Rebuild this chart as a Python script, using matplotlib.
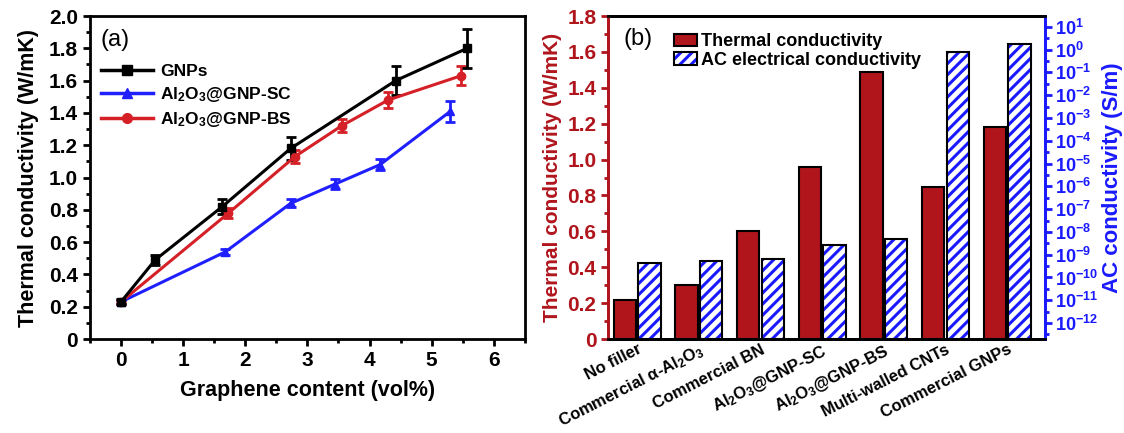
import numpy as np
import matplotlib
matplotlib.use("Agg")
import matplotlib.pyplot as plt
import matplotlib.transforms as mtransforms
from matplotlib.lines import Line2D
from matplotlib.ticker import MultipleLocator, FixedLocator, FuncFormatter
from matplotlib.legend_handler import HandlerTuple

plt.rcParams['font.family'] = ['Liberation Sans', 'DejaVu Sans']
plt.rcParams['font.weight'] = 'bold'
plt.rcParams['mathtext.fontset'] = 'custom'
plt.rcParams['mathtext.rm'] = 'Liberation Sans:bold'
plt.rcParams['mathtext.bf'] = 'Liberation Sans:bold'
plt.rcParams['mathtext.it'] = 'Liberation Sans:bold'
plt.rcParams['mathtext.default'] = 'rm'
plt.rcParams['hatch.linewidth'] = 2.2

# (a) thermal conductivity vs graphene content
gnp_x = [0, 0.55, 1.63, 2.73, 4.42, 5.57]
gnp_y = [0.23, 0.49, 0.82, 1.18, 1.60, 1.80]
gnp_err = [0.015, 0.03, 0.045, 0.07, 0.09, 0.12]

sc_x = [0, 1.68, 2.73, 3.45, 4.17, 5.30]
sc_y = [0.23, 0.54, 0.84, 0.96, 1.08, 1.41]
sc_err = [0.01, 0.02, 0.025, 0.03, 0.035, 0.065]

bs_x = [0, 1.73, 2.80, 3.55, 4.30, 5.47]
bs_y = [0.23, 0.78, 1.13, 1.32, 1.48, 1.63]
bs_err = [0.01, 0.03, 0.04, 0.04, 0.05, 0.06]

# (b) comparison of fillers
fillers = ["No filler", r"Commercial α-Al$_2$O$_3$", "Commercial BN",
           r"Al$_2$O$_3$@GNP-SC", r"Al$_2$O$_3$@GNP-BS",
           "Multi-walled CNTs", "Commercial GNPs"]
thermal = [0.22, 0.30, 0.60, 0.96, 1.49, 0.85, 1.18]
ac_cond = [4.2e-10, 5.5e-10, 6.5e-10, 2.7e-9, 4.7e-9, 0.8, 1.7]

RED = "#b0151c"
BLUE = "#1a1aff"

fig = plt.figure(figsize=(11.24, 4.33), dpi=100)
ax1 = fig.add_axes([0.080, 0.217, 0.387, 0.746])
ax2 = fig.add_axes([0.541, 0.217, 0.389, 0.746])


def one_dec(v, p):
    return "0" if abs(v) < 1e-9 else f"{v:.1f}"


# ---- panel (a)
series = [
    (gnp_x, gnp_y, gnp_err, "black", "s", "GNPs"),
    (sc_x, sc_y, sc_err, "#1f1fff", "^", r"Al$_2$O$_3$@GNP-SC"),
    (bs_x, bs_y, bs_err, "#d42026", "o", r"Al$_2$O$_3$@GNP-BS"),
]
# blue, red, then black on top
for x, y, e, c, m, lab in [series[1], series[2], series[0]]:
    ax1.errorbar(x, y, yerr=e, color=c, marker=m, markersize=6,
                 linewidth=2.2, elinewidth=2, capsize=3.5, capthick=2)
leg_lines = [Line2D([], [], color=c, marker=m, markersize=7, linewidth=2.5)
             for _, _, _, c, m, _ in series]
ax1.legend(leg_lines, [s[5] for s in series],
           loc="upper left", bbox_to_anchor=(-0.01, 0.90),
           frameon=False, fontsize=12.5, handlelength=3.0,
           handletextpad=0.4, labelspacing=0.35)

ax1.set_xlim(-0.5, 6.5)
ax1.set_ylim(0, 2.0)
ax1.xaxis.set_major_locator(MultipleLocator(1))
ax1.xaxis.set_minor_locator(MultipleLocator(0.5))
ax1.yaxis.set_major_locator(MultipleLocator(0.2))
ax1.yaxis.set_minor_locator(MultipleLocator(0.1))
ax1.yaxis.set_major_formatter(FuncFormatter(one_dec))
ax1.tick_params(which="both", direction="out", width=2, labelsize=15,
                top=False, right=False)
ax1.tick_params(which="major", length=5)
ax1.tick_params(which="minor", length=3)
for s in ax1.spines.values():
    s.set_linewidth(2)
ax1.set_xlabel("Graphene content (vol%)", fontsize=15.5, fontweight="bold",
               labelpad=7)
ax1.set_ylabel("Thermal conductivity (W/mK)", fontsize=15.5,
               fontweight="bold", labelpad=7)
ax1.text(0.025, 0.925, "(a)", transform=ax1.transAxes, fontsize=17,
         fontweight="normal", va="center")

# ---- panel (b)
pos = np.arange(len(fillers))
w = 0.36
bars_t = ax2.bar(pos - w / 2 - 0.02, thermal, w, color=RED,
                 edgecolor="black", linewidth=1.5)
ax2.set_xlim(-0.47, 6.62)
ax2.set_ylim(0, 1.8)
ax2.yaxis.set_major_locator(MultipleLocator(0.2))
ax2.yaxis.set_minor_locator(MultipleLocator(0.1))
ax2.yaxis.set_major_formatter(FuncFormatter(one_dec))
ax2.set_xticks(pos)
ax2.set_xticklabels(fillers, rotation=27, ha="right", va="top",
                    rotation_mode="anchor", fontsize=12)
shift = mtransforms.ScaledTranslation(10 / 72, 0, fig.dpi_scale_trans)
for lbl in ax2.get_xticklabels():
    lbl.set_transform(lbl.get_transform() + shift)
ax2.tick_params(axis="x", length=0, pad=2)
ax2.tick_params(axis="y", which="both", direction="out", width=2,
                colors=RED, labelsize=15)
ax2.tick_params(axis="y", which="major", length=5)
ax2.tick_params(axis="y", which="minor", length=3)
ax2.set_ylabel("Thermal conductivity (W/mK)", color=RED, fontsize=15,
               fontweight="bold", labelpad=4)

ax3 = ax2.twinx()
ax3.set_yscale("log")
ax3.set_ylim(10 ** -12.7, 10 ** 1.47)
bars_h = ax3.bar(pos + w / 2 + 0.02, ac_cond, w, bottom=10 ** -12.7,
                 color="white", edgecolor=BLUE, hatch="///", linewidth=0)
bars_o = ax3.bar(pos + w / 2 + 0.02, ac_cond, w, bottom=10 ** -12.7,
                 fill=False, edgecolor="black", linewidth=1.5)
ax3.yaxis.set_major_locator(FixedLocator([10.0 ** k for k in range(-12, 2)]))
ax3.yaxis.set_minor_locator(
    FixedLocator([10.0 ** (k + 0.5) for k in range(-13, 2)]))
ax3.yaxis.set_major_formatter(
    FuncFormatter(lambda v, p: r"$10^{%d}$" % round(np.log10(v))))
ax3.yaxis.set_minor_formatter(FuncFormatter(lambda v, p: ""))
ax3.tick_params(axis="y", which="both", direction="out", width=2,
                colors=BLUE, labelsize=13, pad=2)
ax3.tick_params(axis="y", which="major", length=5)
ax3.tick_params(axis="y", which="minor", length=3)
ax3.set_ylabel("AC conductivity (S/m)", color=BLUE, fontsize=16,
               fontweight="bold", labelpad=3)

for a in (ax2, ax3):
    for s in a.spines.values():
        s.set_linewidth(2)
    a.spines["top"].set_color("black")
    a.spines["bottom"].set_color("black")
    a.spines["left"].set_color(RED)
    a.spines["right"].set_color(BLUE)

ax3.legend([bars_t, (bars_h, bars_o)],
           ["Thermal conductivity", "AC electrical conductivity"],
           handler_map={tuple: HandlerTuple(ndivide=1)},
           loc="upper left", bbox_to_anchor=(0.125, 0.98), frameon=False,
           fontsize=13, handlelength=1.3, handleheight=0.7,
           handletextpad=0.2, labelspacing=0.1, borderaxespad=0.2)
ax2.text(0.035, 0.93, "(b)", transform=ax2.transAxes, fontsize=17,
         fontweight="normal", va="center")

fig.savefig("out.png", dpi=100)
